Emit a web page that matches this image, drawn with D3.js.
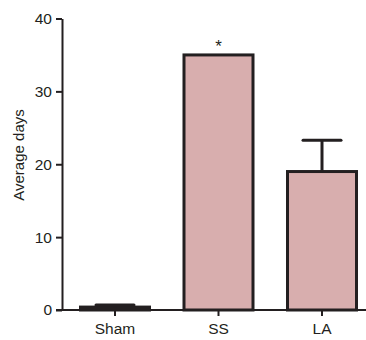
<!DOCTYPE html>
<html>
<head>
<meta charset="UTF-8">
<script src="https://d3js.org/d3.v7.min.js"></script>
<style>
  body { margin: 0; background: #fff; }
  text { font-family: "Liberation Sans", Arial, sans-serif; }
</style>
</head>
<body>
<svg></svg>
<script>
const groups = ["Sham", "SS", "LA"];
const means = [0.4, 35, 19];
const errors = [0.3, 0, 4.3];
const yTicks = [0, 10, 20, 30, 40];
const marks = ["", "*", ""];

const width = 366, height = 340;
const axisLeftX = 62, axisRightX = 366;

const svg = d3.select("svg").attr("width", width).attr("height", height);

const x = d3.scaleBand()
  .domain(groups)
  .range([80.5, 356.5])
  .paddingInner(1 / 3)
  .paddingOuter(0);

const y = d3.scaleLinear()
  .domain([0, 40])
  .range([310, 18.5]);

const data = groups.map((g, i) => ({ g, m: means[i], e: errors[i], mark: marks[i] }));

// bars
svg.append("g")
  .selectAll("rect")
  .data(data)
  .join("rect")
    .attr("x", d => x(d.g))
    .attr("y", d => y(d.m))
    .attr("width", x.bandwidth())
    .attr("height", d => y(0) - y(d.m))
    .attr("fill", "#d8aeae")
    .attr("stroke", "#231f20")
    .attr("stroke-width", 3);

// error bars
const eb = svg.append("g").attr("stroke", "#231f20").attr("stroke-width", 3);
data.filter(d => d.e > 0).forEach(d => {
  const cx = x(d.g) + x.bandwidth() / 2;
  eb.append("line")
    .attr("x1", cx).attr("x2", cx)
    .attr("y1", y(d.m)).attr("y2", y(d.m + d.e));
  eb.append("line")
    .attr("x1", cx - 19).attr("x2", cx + 19)
    .attr("y1", y(d.m + d.e)).attr("y2", y(d.m + d.e))
    .attr("stroke-linecap", "round");
});

// significance marks
svg.append("g")
  .selectAll("text")
  .data(data.filter(d => d.mark))
  .join("text")
    .attr("x", d => x(d.g) + x.bandwidth() / 2)
    .attr("y", d => y(d.m) - 3)
    .attr("text-anchor", "middle")
    .attr("font-size", 17)
    .attr("fill", "#231f20")
    .text(d => d.mark);

// y axis
const yAxis = svg.append("g")
  .attr("transform", `translate(${axisLeftX},0)`)
  .call(d3.axisLeft(y).tickValues(yTicks).tickSize(6).tickPadding(4).tickSizeOuter(0));
yAxis.select(".domain").attr("stroke", "#231f20").attr("stroke-width", 2);
yAxis.selectAll(".tick line").attr("stroke", "#231f20").attr("stroke-width", 2);
yAxis.selectAll(".tick text").attr("font-size", 15.5).attr("fill", "#231f20")
  .attr("font-family", "Liberation Sans, Arial, sans-serif");

// x axis
const xAxis = svg.append("g")
  .attr("transform", `translate(0,${y(0)})`)
  .call(d3.axisBottom(x).tickSize(6).tickPadding(7));
xAxis.select(".domain").remove();
xAxis.selectAll(".tick line").attr("stroke", "#231f20").attr("stroke-width", 2);
xAxis.selectAll(".tick text").attr("font-size", 15.5).attr("fill", "#231f20")
  .attr("font-family", "Liberation Sans, Arial, sans-serif");
xAxis.append("line")
  .attr("x1", axisLeftX - 6).attr("x2", axisRightX)
  .attr("y1", 0).attr("y2", 0)
  .attr("stroke", "#231f20").attr("stroke-width", 2);

// y label
svg.append("text")
  .attr("transform", `translate(24,155) rotate(-90)`)
  .attr("text-anchor", "middle")
  .attr("font-size", 15)
  .attr("fill", "#231f20")
  .text("Average days");
</script>
</body>
</html>
